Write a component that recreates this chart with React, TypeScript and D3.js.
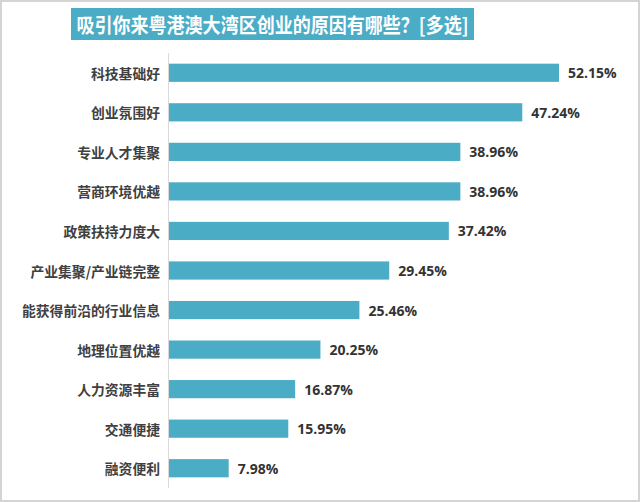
import React from "react";
import * as d3 from "d3";

const categories = [
  "科技基础好",
  "创业氛围好",
  "专业人才集聚",
  "营商环境优越",
  "政策扶持力度大",
  "产业集聚/产业链完整",
  "能获得前沿的行业信息",
  "地理位置优越",
  "人力资源丰富",
  "交通便捷",
  "融资便利",
];
const values = [52.15, 47.24, 38.96, 38.96, 37.42, 29.45, 25.46, 20.25, 16.87, 15.95, 7.98];
const title = "吸引你来粤港澳大湾区创业的原因有哪些？[多选]";

const W = 640;
const H = 502;
const color = "#4BACC6";

export default function App() {
  const x0 = 169;
  const x = d3.scaleLinear().domain([0, 52.15]).range([x0, 559]);
  const y = d3
    .scaleBand<string>()
    .domain(categories)
    .range([53, 488])
    .paddingInner(0.54)
    .paddingOuter(0.27);
  const bw = y.bandwidth();
  return (
    <svg
      width={W}
      height={H}
      style={{ position: "absolute", left: 0, top: 0, background: "#fff" }}
    >
      <rect x={1} y={1} width={W - 2} height={H - 2} fill="#fff" stroke="#d4d4d4" strokeWidth={2} />
      <rect x={71} y={8} width={403} height={32} fill={color} />
      <text
        x={272.5}
        y={24.5}
        textAnchor="middle"
        dominantBaseline="central"
        fill="#fff"
        fontFamily="'Noto Sans CJK SC', sans-serif"
        fontWeight="bold"
        fontSize={20}
        textLength={392}
        lengthAdjust="spacingAndGlyphs"
      >
        {title}
      </text>
      <line x1={x0 - 0.5} x2={x0 - 0.5} y1={53} y2={488} stroke="#d9d9d9" strokeWidth={1} />
      {categories.map((c, i) => {
        const yy = y(c)!;
        const v = values[i];
        return (
          <g key={c}>
            <rect x={x0} y={yy} width={x(v) - x0} height={bw} fill={color} />
            <text
              x={160}
              y={yy + bw / 2}
              textAnchor="end"
              dominantBaseline="central"
              fill="#404040"
              fontFamily="'Noto Sans CJK SC', sans-serif"
              fontWeight="bold"
              fontSize={13.8}
            >
              {c}
            </text>
            <text
              x={x(v) + 9}
              y={yy + bw / 2}
              dominantBaseline="central"
              fill="#333"
              fontFamily="'Open Sans', sans-serif"
              fontWeight="bold"
              fontSize={14}
            >
              {v.toFixed(2)}%
            </text>
          </g>
        );
      })}
    </svg>
  );
}
